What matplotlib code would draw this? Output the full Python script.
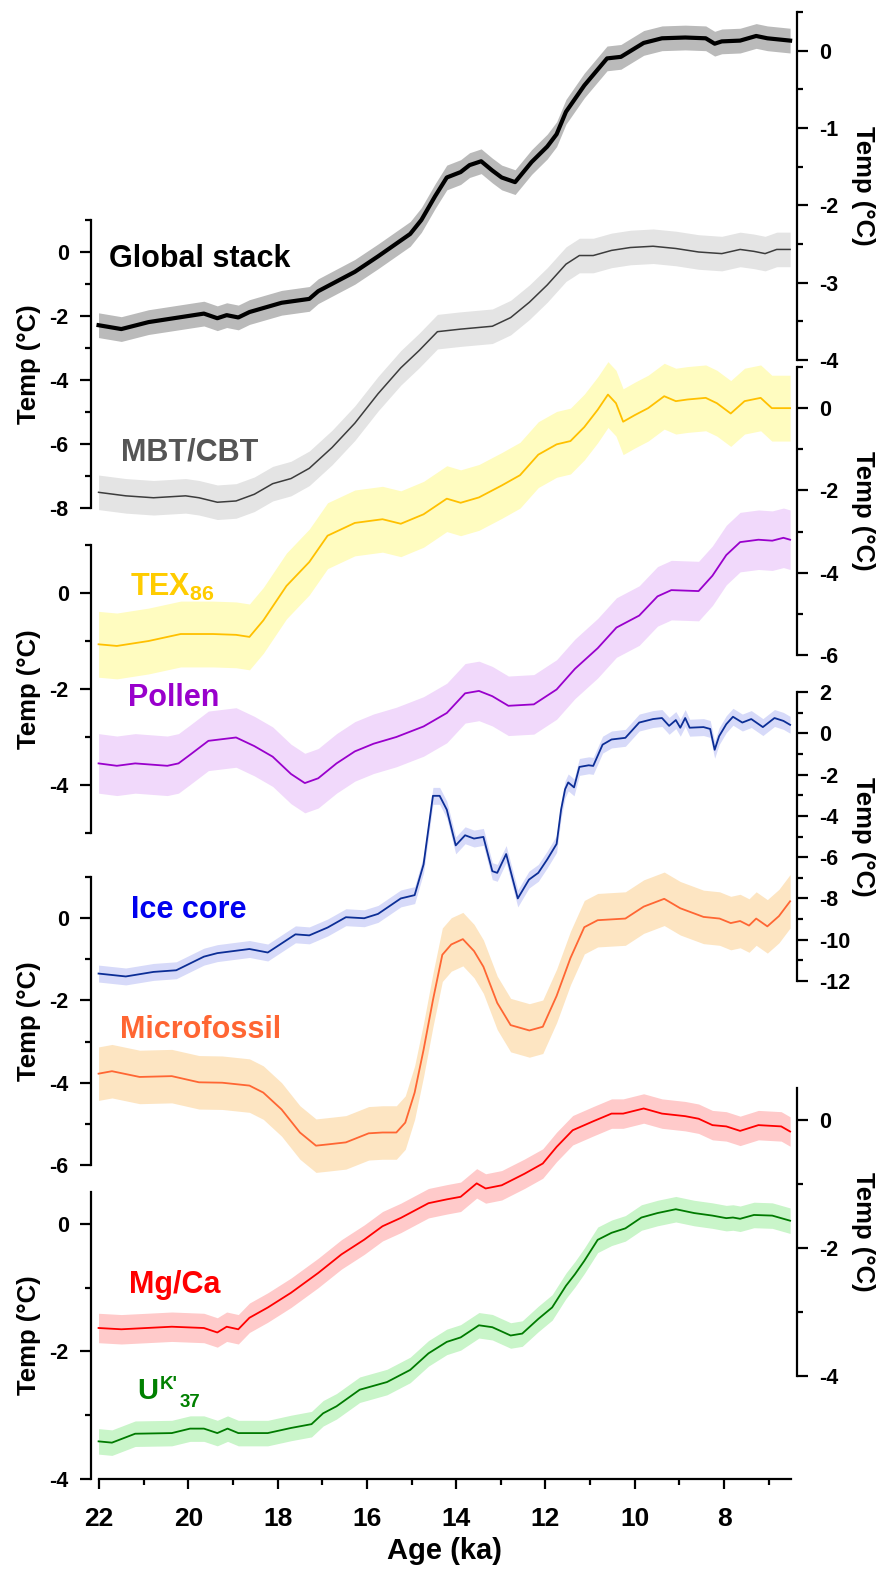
import matplotlib.pyplot as plt
from matplotlib.ticker import MultipleLocator
import numpy as np

plt.rcParams['font.family'] = ['Liberation Sans', 'DejaVu Sans']
plt.rcParams['font.weight'] = 'bold'
plt.rcParams['axes.unicode_minus'] = False
plt.rcParams['mathtext.fontset'] = 'custom'
plt.rcParams['mathtext.rm'] = 'Liberation Sans:bold'
plt.rcParams['mathtext.it'] = 'Liberation Sans:bold'
plt.rcParams['mathtext.bf'] = 'Liberation Sans:bold'

# ---- temperature anomaly reconstructions (age in ka, temp in deg C) ----
global_age = [22.01, 21.5, 20.89, 19.65, 19.35, 19.14, 18.88, 18.63, 17.91, 17.29, 17.09,
              16.27, 15.75, 15.03, 14.78, 14.47, 14.21, 13.9, 13.7, 13.44, 13.19, 12.98,
              12.68, 12.31, 11.96, 11.75, 11.54, 11.13, 10.62, 10.31, 9.8, 9.39, 8.87,
              8.41, 8.21, 8.05, 7.64, 7.28, 7.03, 6.52]
global_temp = [-3.55, -3.6, -3.51, -3.4, -3.46, -3.42, -3.45, -3.38, -3.26, -3.21, -3.11,
               -2.86, -2.66, -2.37, -2.19, -1.88, -1.64, -1.57, -1.48, -1.43, -1.55, -1.64,
               -1.7, -1.44, -1.24, -1.08, -0.79, -0.45, -0.1, -0.08, 0.1, 0.16, 0.17,
               0.16, 0.09, 0.12, 0.13, 0.19, 0.16, 0.13]
global_err = 0.16

mbt_age = [22.01, 21.4, 20.78, 20.06, 19.76, 19.35, 18.93, 18.52, 18.11, 17.7, 17.29,
           16.78, 16.27, 15.75, 15.24, 14.83, 14.42, 13.9, 13.19, 12.78, 12.36, 11.96,
           11.54, 11.24, 10.93, 10.52, 10.1, 9.59, 9.08, 8.57, 8.05, 7.64, 7.33, 7.08,
           6.82, 6.52]
mbt_temp = [-7.51, -7.62, -7.68, -7.62, -7.68, -7.82, -7.78, -7.57, -7.24, -7.08, -6.76,
            -6.11, -5.35, -4.43, -3.62, -3.08, -2.49, -2.41, -2.32, -2.05, -1.57, -1.03,
            -0.38, -0.11, -0.11, 0.05, 0.14, 0.18, 0.11, 0.0, -0.05, 0.08, 0.02, -0.05,
            0.08, 0.08]
mbt_err = 0.54

tex_age = [22.01, 21.6, 20.89, 20.17, 19.45, 18.93, 18.63, 18.32, 17.8, 17.29, 16.88,
           16.27, 15.65, 15.24, 14.73, 14.21, 13.9, 13.49, 12.98, 12.57, 12.16, 11.75,
           11.44, 11.13, 10.83, 10.6, 10.42, 10.26, 10.0, 9.7, 9.34, 9.08, 8.82, 8.41,
           8.16, 7.85, 7.54, 7.18, 6.93, 6.52]
tex_temp = [-5.74, -5.78, -5.66, -5.49, -5.49, -5.51, -5.56, -5.16, -4.32, -3.74, -3.1,
            -2.79, -2.7, -2.81, -2.58, -2.2, -2.3, -2.17, -1.88, -1.63, -1.13, -0.88,
            -0.8, -0.46, -0.04, 0.33, 0.12, -0.33, -0.17, 0.0, 0.29, 0.17, 0.21, 0.25,
            0.12, -0.13, 0.17, 0.25, 0.0, 0.0]
tex_err = 0.8

pollen_age = [22.01, 21.6, 21.19, 20.47, 20.22, 19.96, 19.55, 18.93, 18.52, 18.11, 17.7,
              17.39, 17.09, 16.68, 16.27, 15.85, 15.34, 14.73, 14.21, 13.8, 13.49, 13.19,
              12.83, 12.26, 11.75, 11.34, 10.83, 10.41, 9.9, 9.49, 9.18, 8.57, 8.26,
              7.95, 7.64, 7.23, 6.92, 6.67, 6.52]
pollen_temp = [-3.55, -3.6, -3.55, -3.6, -3.55, -3.37, -3.08, -3.01, -3.19, -3.41, -3.77,
               -3.96, -3.86, -3.55, -3.3, -3.14, -3.0, -2.78, -2.5, -2.09, -2.04, -2.15,
               -2.35, -2.32, -2.01, -1.58, -1.15, -0.72, -0.47, -0.07, 0.06, 0.04, 0.36,
               0.79, 1.06, 1.11, 1.09, 1.15, 1.11]
pollen_err = 0.62

ice_age = [22.01, 21.4, 20.78, 20.27, 19.65, 19.35, 18.63, 18.22, 17.6, 17.29, 16.88,
           16.47, 16.06, 15.75, 15.24, 14.93, 14.73, 14.52, 14.37, 14.21, 14.01, 13.8,
           13.6, 13.39, 13.19, 13.08, 12.88, 12.62, 12.37, 12.16, 11.96, 11.75, 11.65,
           11.56, 11.49, 11.36, 11.24, 11.03, 10.93, 10.72, 10.52, 10.21, 9.9, 9.59,
           9.39, 9.23, 9.08, 8.98, 8.87, 8.77, 8.46, 8.31, 8.21, 8.11, 7.95, 7.8, 7.59,
           7.39, 7.13, 6.87, 6.67, 6.52]
ice_temp = [-11.64, -11.78, -11.56, -11.48, -10.82, -10.65, -10.45, -10.62, -9.74, -9.79,
            -9.41, -8.91, -8.96, -8.75, -8.0, -7.84, -6.35, -3.03, -3.03, -3.7, -5.43,
            -4.94, -5.1, -5.02, -6.68, -6.76, -5.85, -8.0, -7.09, -6.76, -6.11, -5.36,
            -3.7, -2.71, -2.38, -2.62, -1.63, -1.55, -1.58, -0.55, -0.3, -0.22, 0.52,
            0.69, 0.74, 0.36, 0.64, 0.27, 0.74, 0.27, 0.3, 0.21, -0.8, -0.14, 0.44, 0.8,
            0.52, 0.69, 0.3, 0.74, 0.6, 0.41]
ice_err = 0.41

micro_age = [22.01, 21.71, 21.09, 20.37, 19.76, 19.24, 18.63, 18.32, 17.91, 17.5, 17.14,
             16.88, 16.47, 15.96, 15.65, 15.34, 15.14, 14.93, 14.73, 14.52, 14.31, 14.11,
             13.85, 13.6, 13.39, 13.08, 12.78, 12.36, 12.06, 11.75, 11.44, 11.13, 10.83,
             10.21, 9.8, 9.34, 8.98, 8.46, 8.1, 7.85, 7.64, 7.44, 7.28, 7.03, 6.77, 6.52]
micro_temp = [-3.78, -3.72, -3.86, -3.84, -3.99, -4.0, -4.07, -4.24, -4.65, -5.21, -5.53,
              -5.5, -5.45, -5.23, -5.21, -5.21, -4.97, -4.24, -3.2, -1.99, -0.89, -0.64,
              -0.51, -0.8, -1.18, -2.06, -2.6, -2.73, -2.64, -1.89, -0.97, -0.22, -0.05,
              -0.01, 0.28, 0.47, 0.24, 0.03, -0.01, -0.12, -0.07, -0.18, -0.01, -0.2,
              0.05, 0.41]
micro_err = 0.65

mgca_age = [22.01, 21.5, 20.37, 19.65, 19.35, 19.14, 18.88, 18.63, 18.22, 17.7, 17.09,
            16.57, 16.06, 15.65, 15.24, 14.62, 14.21, 13.9, 13.54, 13.34, 12.98, 12.47,
            12.06, 11.75, 11.39, 10.93, 10.52, 10.26, 9.8, 9.39, 8.87, 8.57, 8.26, 7.95,
            7.64, 7.23, 6.72, 6.52]
mgca_temp = [-3.25, -3.27, -3.23, -3.25, -3.32, -3.23, -3.27, -3.09, -2.93, -2.7, -2.39,
             -2.1, -1.87, -1.66, -1.53, -1.3, -1.24, -1.2, -0.99, -1.07, -1.02, -0.84,
             -0.68, -0.42, -0.16, -0.02, 0.1, 0.1, 0.18, 0.1, 0.06, 0.02, -0.08, -0.1,
             -0.17, -0.08, -0.1, -0.18]
mgca_err = 0.23

uk_age = [22.01, 21.71, 21.19, 20.37, 19.96, 19.65, 19.35, 19.12, 18.88, 18.22, 17.7,
          17.24, 16.98, 16.68, 16.16, 15.55, 15.03, 14.62, 14.21, 13.9, 13.49, 13.19,
          12.78, 12.52, 12.16, 11.85, 11.54, 11.34, 11.13, 10.83, 10.52, 10.21, 9.85,
          9.49, 9.08, 8.67, 8.26, 7.95, 7.8, 7.64, 7.33, 6.92, 6.52]
uk_temp = [-3.41, -3.43, -3.29, -3.28, -3.21, -3.21, -3.28, -3.21, -3.28, -3.28, -3.2,
           -3.14, -2.97, -2.86, -2.6, -2.48, -2.29, -2.03, -1.85, -1.78, -1.59, -1.62,
           -1.75, -1.72, -1.49, -1.31, -0.97, -0.79, -0.58, -0.25, -0.14, -0.07, 0.1,
           0.17, 0.23, 0.17, 0.13, 0.09, 0.1, 0.08, 0.14, 0.13, 0.05]
uk_err = 0.2

age_ticks = [22, 20, 18, 16, 14, 12, 10, 8]

W, H = 879, 1574
fig = plt.figure(figsize=(W / 100, H / 100), dpi=100)
X0, X1 = 99, 791


def panel(top, bottom, side, ylim, major, minor, age, temp, err,
          line_c, band_c, lw=1.3, last=False):
    ax = fig.add_axes([X0 / W, 1 - bottom / H, (X1 - X0) / W, (bottom - top) / H])
    ax.patch.set_alpha(0)
    ax.set_xlim(22, 6.5)
    ax.set_ylim(*ylim)
    t = np.array(temp)
    ax.fill_between(age, t - err, t + err, color=band_c, lw=0, clip_on=False)
    ax.plot(age, t, color=line_c, lw=lw, clip_on=False, solid_joinstyle='round')

    other = 'right' if side == 'left' else 'left'
    for s in ['top', other]:
        ax.spines[s].set_visible(False)
    ax.spines[side].set_position(('outward', 5.8 if side == 'left' else 4))
    ax.spines[side].set_linewidth(1.6)
    ax.yaxis.set_ticks_position(side)
    ax.yaxis.set_label_position(side)
    ax.yaxis.set_major_locator(MultipleLocator(major))
    ax.yaxis.set_minor_locator(MultipleLocator(minor))
    ax.tick_params(axis='y', which='major', length=8, width=1.6, labelsize=15.5, pad=8)
    ax.tick_params(axis='y', which='minor', length=4.5, width=1.6)
    ax.yaxis.set_major_formatter(lambda v, p: f'{v:g}')

    lx = (29 - X0) / (X1 - X0) if side == 'left' else (863 - X0) / (X1 - X0)
    ax.set_ylabel('Temp (°C)', fontsize=18.5, fontweight='bold',
                  rotation=90 if side == 'left' else 270)
    ax.yaxis.set_label_coords(lx, 0.5)
    ax.yaxis.label.set_va('center')
    ax.yaxis.label.set_ha('center')

    if last:
        ax.spines['bottom'].set_linewidth(1.6)
        ax.xaxis.set_minor_locator(MultipleLocator(1))
        ax.set_xticks(age_ticks)
        ax.set_xticklabels([str(a) for a in age_ticks])
        ax.tick_params(axis='x', which='major', length=7.5, width=1.6, labelsize=19, pad=13)
        ax.tick_params(axis='x', which='minor', length=4.5, width=1.6)
        ax.set_xlabel('Age (ka)', fontsize=21, fontweight='bold', labelpad=4)
    else:
        ax.spines['bottom'].set_visible(False)
        ax.tick_params(axis='x', which='both', bottom=False, labelbottom=False)
    return ax


panel(12, 360, 'right', (-4, 0.5), 1, 0.5, global_age, global_temp, global_err,
      'black', '#bababa', lw=3.0)
panel(220, 508, 'left', (-8, 1), 2, 1, mbt_age, mbt_temp, mbt_err,
      '#3c3c3c', '#e4e4e4', lw=1.1)
panel(367, 655, 'right', (-6, 1), 2, 1, tex_age, tex_temp, tex_err,
      '#ffc000', '#fffcc0')
panel(545, 833, 'left', (-5, 1), 2, 1, pollen_age, pollen_temp, pollen_err,
      '#9900cc', '#f1d9fb')
panel(692, 981, 'right', (-12, 2), 2, 1, ice_age, ice_temp, ice_err,
      '#0c2e96', '#d7daf9')
panel(877, 1165, 'left', (-6, 1), 2, 1, micro_age, micro_temp, micro_err,
      '#ff6633', '#fde5c2')
panel(1088, 1376, 'right', (-4, 0.5), 2, 1, mgca_age, mgca_temp, mgca_err,
      '#ff0000', '#ffcaca')
panel(1192, 1479, 'left', (-4, 0.5), 2, 1, uk_age, uk_temp, uk_err,
      '#007a00', '#c9f5c9', last=True)


def label(x, y, s, color, size=22):
    fig.text(x / W, 1 - y / H, s, color=color, fontsize=size, fontweight='bold',
             ha='left', va='baseline')


label(109, 267, 'Global stack', 'black')
label(121, 461, 'MBT/CBT', '#555555')
label(130, 596, 'TEX$_{86}$', '#ffcc00')
label(128, 706, 'Pollen', '#9900cc')
label(131, 918, 'Ice core', '#0000ee')
label(120, 1038, 'Microfossil', '#ff6633')
label(129, 1293, 'Mg/Ca', '#ff0000')
label(137, 1399, 'U', '#008000', size=21)
label(160, 1389, "K'", '#008000', size=13.5)
label(180, 1407, '37', '#008000', size=13.5)

fig.savefig('out.png', dpi=100)
